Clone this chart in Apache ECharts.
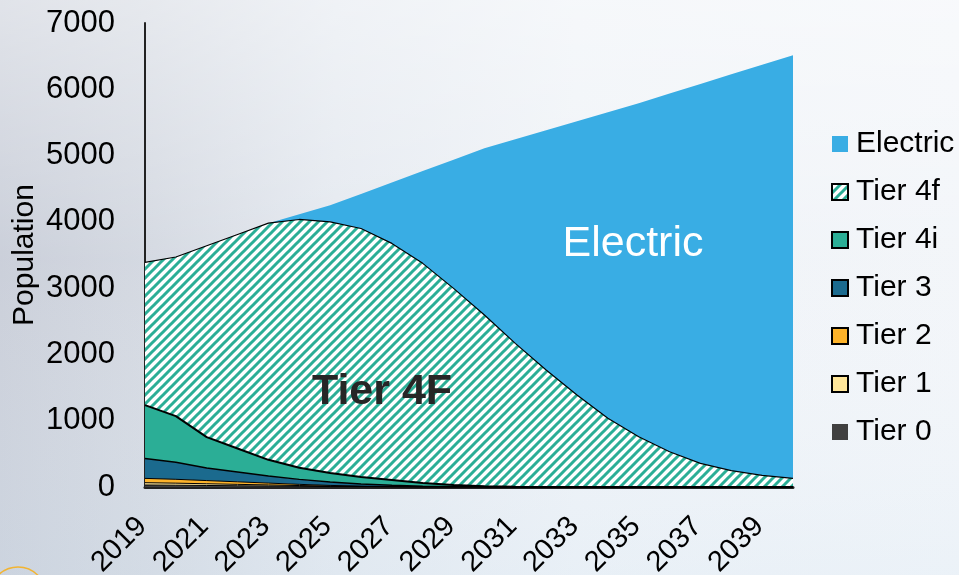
<!DOCTYPE html>
<html>
<head>
<meta charset="utf-8">
<script src="https://cdn.jsdelivr.net/npm/echarts@6/dist/echarts.min.js"></script>
<style>
html,body{margin:0;padding:0;background:#e9edf3;}
#chart{width:959px;height:575px;}
</style>
</head>
<body>
<div id="chart"></div>
<script>
const years = ['2019','2020','2021','2022','2023','2024','2025','2026','2027','2028','2029','2030','2031','2032','2033','2034','2035','2036','2037','2038','2039','2040'];
const tier0 = [30, 27, 23, 19, 15, 11, 7, 4, 2, 0, 0, 0, 0, 0, 0, 0, 0, 0, 0, 0, 0, 0];
const tier1 = [35, 31, 26, 21, 16, 11, 7, 4, 2, 0, 0, 0, 0, 0, 0, 0, 0, 0, 0, 0, 0, 0];
const tier2 = [65, 58, 48, 38, 28, 18, 10, 5, 2, 0, 0, 0, 0, 0, 0, 0, 0, 0, 0, 0, 0, 0];
const tier3 = [300, 259, 188, 147, 106, 75, 51, 32, 19, 12, 5, 2, 0, 0, 0, 0, 0, 0, 0, 0, 0, 0];
const tier4i = [805, 694, 468, 355, 245, 175, 136, 105, 80, 48, 25, 10, 3, 0, 0, 0, 0, 0, 0, 0, 0, 0];
const tier4f = [2155, 2401, 2887, 3230, 3570, 3746, 3789, 3750, 3570, 3314, 2967, 2582, 2164, 1765, 1388, 1036, 759, 532, 357, 246, 176, 131];
const electric = [0, 0, 0, 0, 0, 79, 250, 522, 919, 1392, 1941, 2516, 3079, 3617, 4130, 4618, 5031, 5403, 5723, 5979, 6194, 6384];
const yTicks = [0, 1000, 2000, 3000, 4000, 5000, 6000, 7000];

const C_ELEC = '#39ADE4', C_TEAL = '#2BAE96', C_T3 = '#1B6A8E', C_T2 = '#FDB32A', C_T1 = '#FFE699', C_T0 = '#404040';
const FONT = '"Liberation Sans", Arial, sans-serif';

function hatch() {
  const s = 9;
  const c = document.createElement('canvas');
  c.width = s; c.height = s;
  const g = c.getContext('2d');
  g.fillStyle = '#ffffff'; g.fillRect(0, 0, s, s);
  g.strokeStyle = C_TEAL; g.lineWidth = 3;
  g.beginPath();
  g.moveTo(0, s); g.lineTo(s, 0);
  g.moveTo(-s / 2, s / 2); g.lineTo(s / 2, -s / 2);
  g.moveTo(s / 2, s * 1.5); g.lineTo(s * 1.5, s / 2);
  g.stroke();
  return c;
}
const hatchFill = { image: hatch(), repeat: 'repeat' };

function area(name, data, fill, lw) {
  return {
    name: name, type: 'line', stack: 'total', data: data,
    symbol: 'none', smooth: false,
    lineStyle: { color: '#000', width: lw },
    areaStyle: { color: fill, opacity: 1 },
    itemStyle: { color: fill },
    emphasis: { disabled: true }
  };
}

const chart = echarts.init(document.getElementById('chart'), null, { renderer: 'canvas' });
chart.setOption({
  animation: false,
  backgroundColor: {
    type: 'linear', x: 0, y: 0, x2: 1, y2: 0,
    colorStops: [
      { offset: 0, color: '#c8cdd8' },
      { offset: 0.15, color: '#d2d7e0' },
      { offset: 0.35, color: '#e3e8ef' },
      { offset: 0.6, color: '#eef2f7' },
      { offset: 1, color: '#f2f5f9' }
    ]
  },
  graphic: [
    {
      type: 'rect', z: -10, silent: true,
      shape: { x: 0, y: 0, width: 959, height: 575 },
      style: {
        fill: {
          type: 'linear', x: 0, y: 0, x2: 0, y2: 1,
          colorStops: [
            { offset: 0, color: 'rgba(255,255,255,0.45)' },
            { offset: 0.45, color: 'rgba(255,255,255,0.05)' },
            { offset: 1, color: 'rgba(215,232,244,0.25)' }
          ]
        }
      }
    },
    {
      type: 'circle', silent: true,
      shape: { cx: 18, cy: 595, r: 28 },
      style: { fill: 'none', stroke: '#F2B432', lineWidth: 1.5 }
    },
    {
      type: 'text', silent: true, z: 10,
      x: 633, y: 244,
      style: { text: 'Electric', fill: '#ffffff', font: '43px ' + FONT, align: 'center', verticalAlign: 'middle' }
    },
    {
      type: 'text', silent: true, z: 10,
      x: 382, y: 392,
      style: { text: 'Tier 4F', fill: '#262626', font: 'bold 43px ' + FONT, align: 'center', verticalAlign: 'middle' }
    }
  ],
  grid: { left: 145, top: 23, width: 648, height: 464, containLabel: false, outerBoundsMode: 'none' },
  legend: {
    orient: 'vertical', left: 831, top: 128, padding: 0,
    icon: 'rect', itemWidth: 16, itemHeight: 16, itemGap: 16,
    selectedMode: false,
    textStyle: { fontSize: 30, fontFamily: FONT, color: '#000', lineHeight: 32, padding: [0, 0, 0, 3] },
    data: [
      { name: 'Electric', itemStyle: { color: C_ELEC, borderWidth: 0 } },
      { name: 'Tier 4f', itemStyle: { color: hatchFill, borderColor: '#000', borderWidth: 2 } },
      { name: 'Tier 4i', itemStyle: { color: C_TEAL, borderColor: '#000', borderWidth: 2 } },
      { name: 'Tier 3', itemStyle: { color: C_T3, borderColor: '#000', borderWidth: 2 } },
      { name: 'Tier 2', itemStyle: { color: C_T2, borderColor: '#000', borderWidth: 2 } },
      { name: 'Tier 1', itemStyle: { color: C_T1, borderColor: '#000', borderWidth: 2 } },
      { name: 'Tier 0', itemStyle: { color: C_T0, borderWidth: 0 } }
    ]
  },
  xAxis: {
    type: 'category', data: years, boundaryGap: false,
    axisLine: { show: true, lineStyle: { color: '#222', width: 3 } },
    axisTick: { show: false },
    axisLabel: { interval: 1, rotate: 45, margin: 32, padding: [0, 4, 0, 0], fontSize: 29, fontFamily: FONT, color: '#000' },
    splitLine: { show: false }
  },
  yAxis: {
    type: 'value', min: yTicks[0], max: yTicks[yTicks.length - 1], interval: yTicks[1] - yTicks[0],
    name: 'Population', nameLocation: 'middle', nameGap: 105, nameRotate: 90, nameMoveOverlap: false,
    nameTextStyle: { fontSize: 30, fontFamily: FONT, color: '#000' },
    axisLine: { show: true, lineStyle: { color: '#222', width: 2 } },
    axisTick: { show: false },
    axisLabel: { margin: 30, fontSize: 31, fontFamily: FONT, color: '#000', formatter: function (v) { return String(v); } },
    splitLine: { show: false }
  },
  series: [
    area('Tier 0', tier0, C_T0, 1),
    area('Tier 1', tier1, C_T1, 1),
    area('Tier 2', tier2, C_T2, 1),
    area('Tier 3', tier3, C_T3, 1.5),
    area('Tier 4i', tier4i, C_TEAL, 2),
    area('Tier 4f', tier4f, hatchFill, 1.2),
    area('Electric', electric, C_ELEC, 0)
  ]
});
</script>
</body>
</html>
